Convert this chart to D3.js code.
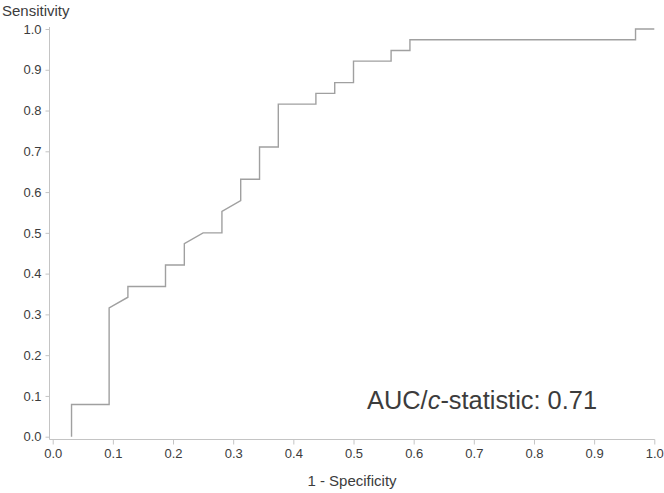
<!DOCTYPE html>
<html>
<head>
<meta charset="utf-8">
<script src="https://cdn.jsdelivr.net/npm/d3@7"></script>
<style>
  html, body { margin: 0; padding: 0; background: #fff; }
  svg { display: block; font-family: "Liberation Sans", Arial, sans-serif; }
</style>
</head>
<body>
<svg id="chart" width="664" height="493"></svg>
<script>
// ROC curve points (1 - Specificity, Sensitivity)
const fpr = [0.0313, 0.0313, 0.0938, 0.0938, 0.125, 0.125, 0.1875, 0.1875, 0.2188, 0.2188,
             0.25, 0.2813, 0.2813, 0.3125, 0.3125, 0.3438, 0.3438, 0.375, 0.375, 0.4375,
             0.4375, 0.4688, 0.4688, 0.5, 0.5, 0.5625, 0.5625, 0.5938, 0.5938, 0.9688,
             0.9688, 1.0];
const tpr = [0, 0.0789, 0.0789, 0.3158, 0.3421, 0.3684, 0.3684, 0.4211, 0.4211, 0.4737,
             0.5, 0.5, 0.5526, 0.5789, 0.6316, 0.6316, 0.7105, 0.7105, 0.8158, 0.8158,
             0.8421, 0.8421, 0.8684, 0.8684, 0.9211, 0.9211, 0.9474, 0.9474, 0.9737, 0.9737,
             1.0, 1.0];
const majorTicks = [0.0, 0.1, 0.2, 0.3, 0.4, 0.5, 0.6, 0.7, 0.8, 0.9, 1.0];
const minorTicks = [0.02, 0.04, 0.06, 0.08, 0.12, 0.14, 0.16, 0.18, 0.22, 0.24, 0.26, 0.28,
                    0.32, 0.34, 0.36, 0.38, 0.42, 0.44, 0.46, 0.48, 0.52, 0.54, 0.56, 0.58,
                    0.62, 0.64, 0.66, 0.68, 0.72, 0.74, 0.76, 0.78, 0.82, 0.84, 0.86, 0.88,
                    0.92, 0.94, 0.96, 0.98];
const xTitle = "1 - Specificity";
const yTitle = "Sensitivity";
const aucValue = "0.71";

const svg = d3.select("#chart");
const x = d3.scaleLinear().domain([0, 1]).range([52.7, 654.3]);
const y = d3.scaleLinear().domain([0, 1]).range([436.7, 29]);

const axisColor = "#c4c4c4";
const textColor = "#3c3c3c";
const xAxisY = 439.5, yAxisX = 49.5;

// X axis
const gx = svg.append("g").attr("transform", `translate(0,${xAxisY})`);
gx.call(d3.axisBottom(x).tickValues(minorTicks).tickSize(4).tickFormat(""));
gx.call(d3.axisBottom(x).tickValues(majorTicks).tickSize(5).tickPadding(4).tickFormat(d3.format(".1f")));
gx.selectAll(".domain").remove();
gx.selectAll("line").attr("stroke", axisColor);
gx.selectAll("text").attr("fill", textColor).attr("font-size", 13)
  .attr("font-family", "Liberation Sans, Arial, sans-serif");
svg.append("line").attr("x1", yAxisX).attr("x2", x(1) + 0.5)
  .attr("y1", xAxisY).attr("y2", xAxisY).attr("stroke", axisColor);

// Y axis
const gy = svg.append("g").attr("transform", `translate(${yAxisX},0)`);
gy.call(d3.axisLeft(y).tickValues(minorTicks).tickSize(3).tickFormat(""));
gy.call(d3.axisLeft(y).tickValues(majorTicks).tickSize(4).tickPadding(4).tickFormat(d3.format(".1f")));
gy.selectAll(".domain").remove();
gy.selectAll("line").attr("stroke", axisColor);
gy.selectAll("text").attr("fill", textColor).attr("font-size", 13)
  .attr("font-family", "Liberation Sans, Arial, sans-serif");
svg.append("line").attr("x1", yAxisX).attr("x2", yAxisX)
  .attr("y1", y(1) - 2).attr("y2", xAxisY).attr("stroke", axisColor);

// Titles
svg.append("text").attr("x", 2).attr("y", 15.5).attr("fill", textColor)
  .attr("font-size", 15).text(yTitle);
svg.append("text").attr("x", 352).attr("y", 485.5).attr("text-anchor", "middle")
  .attr("fill", textColor).attr("font-size", 15).text(xTitle);

// ROC curve
const pts = fpr.map((d, i) => [d, tpr[i]]);
svg.append("path").datum(pts)
  .attr("d", d3.line().x(d => x(d[0])).y(d => y(d[1])))
  .attr("fill", "none").attr("stroke", "#a0a0a0").attr("stroke-width", 1.4);

// AUC annotation
const t = svg.append("text").attr("x", 367).attr("y", 408.5).attr("fill", textColor)
  .attr("font-size", 25.4);
t.append("tspan").text("AUC/");
t.append("tspan").attr("font-style", "italic").text("c");
t.append("tspan").text("-statistic: " + aucValue);
</script>
</body>
</html>
